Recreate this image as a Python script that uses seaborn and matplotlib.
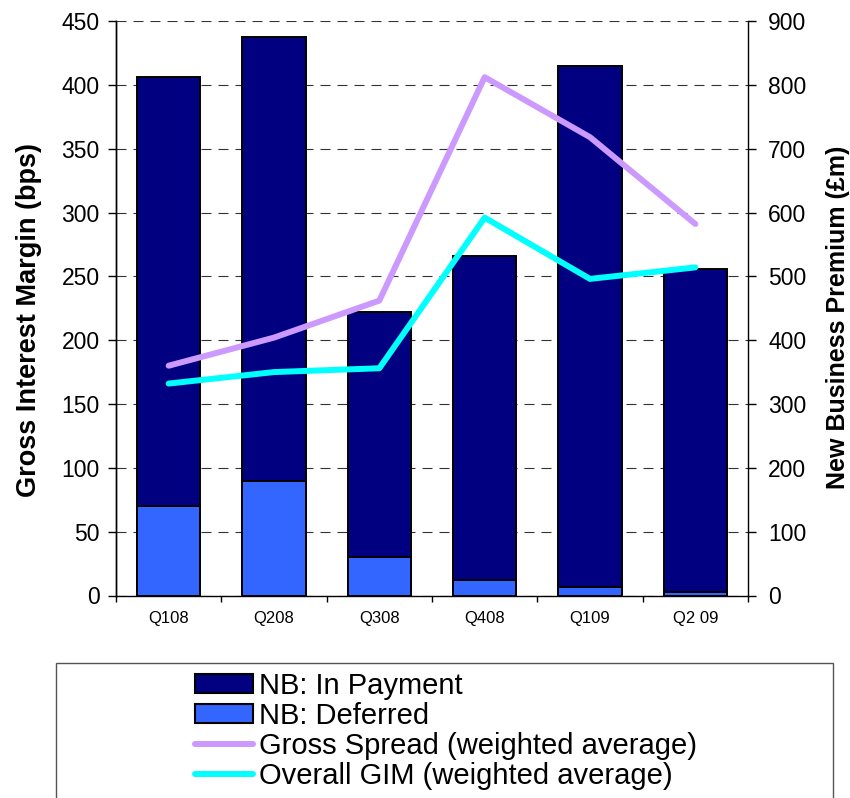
import numpy as np
import pandas as pd
import matplotlib
matplotlib.use("Agg")
import matplotlib.pyplot as plt
import seaborn as sns
from matplotlib.patches import Rectangle, Patch
from matplotlib.lines import Line2D

# Quarterly new business premium (£m) and margins (bps)
quarters = ["Q108", "Q208", "Q308", "Q408", "Q109", "Q2 09"]
nb_in_payment = [673, 695, 383, 508, 816, 506]
nb_deferred = [140, 180, 61, 24, 14, 5]
gross_spread = [180, 202, 231, 406, 359, 291]
overall_gim = [166, 175, 178, 296, 248, 257]

NAVY = "#000080"
BLUE = "#3366FF"
LILAC = "#CC99FF"
CYAN = "#00FFFF"

sns.set_theme(style="white")
plt.rcParams["font.family"] = ["Liberation Sans", "DejaVu Sans"]
plt.rcParams.update({"text.color": "black", "axes.labelcolor": "black",
                     "xtick.color": "black", "ytick.color": "black"})

df = pd.DataFrame({"quarter": quarters,
                   "in_payment": nb_in_payment,
                   "deferred": nb_deferred})
df["total"] = df["in_payment"] + df["deferred"]

W, H = 850, 798
fig = plt.figure(figsize=(W / 100, H / 100), dpi=100)
ax = fig.add_axes([116 / W, 1 - 595.5 / H, (748 - 116) / W, (595.5 - 21) / H])

# Stacked premium bars (right-hand scale): total first, deferred drawn over the base
sns.barplot(data=df, x="quarter", y="total", color=NAVY, saturation=1,
            width=0.6, edgecolor="black", linewidth=1.4, errorbar=None, ax=ax)
sns.barplot(data=df, x="quarter", y="deferred", color=BLUE, saturation=1,
            width=0.6, edgecolor="black", linewidth=1.4, errorbar=None, ax=ax)

# Margin lines (left-hand scale) on a twin axis drawn above the bars
ax2 = ax.twinx()
pos = np.arange(len(quarters))
sns.lineplot(x=pos, y=gross_spread, ax=ax2, color=LILAC, linewidth=4.3,
             solid_capstyle="round")
sns.lineplot(x=pos, y=overall_gim, ax=ax2, color=CYAN, linewidth=4.3,
             solid_capstyle="round")

# Premium axis on the right
ax.set_ylim(0, 900)
ax.set_yticks(range(0, 901, 100))
ax.yaxis.tick_right()
ax.yaxis.set_label_position("right")
ax.set_xlabel("")
ax.set_ylabel("New Business Premium (£m)", fontsize=18, fontweight="bold")
ax.yaxis.set_label_coords(1.124, 0.485)
ax.set_xlim(-0.5, 5.5)
ax.tick_params(axis="y", direction="out", length=6, width=1, color="black",
               labelsize=16.5, pad=8.5, right=True, left=False,
               labelright=True, labelleft=False)

ax.yaxis.grid(True, linestyle=(0, (9, 6.3)), color="#333333", linewidth=0.8)
ax.set_axisbelow(True)

# Category labels centred, ticks on the boundaries
ax.set_xticks(np.arange(-0.5, 6, 1))
ax.set_xticklabels([""] * 7)
ax.set_xticks(pos, minor=True)
ax.set_xticklabels(quarters, minor=True)
ax.tick_params(axis="x", which="major", direction="out", length=4, width=1,
               color="black", bottom=True)
ax.tick_params(axis="x", which="minor", length=0, labelsize=12, pad=11)

for side in ["left", "right", "bottom"]:
    ax.spines[side].set_visible(True)
    ax.spines[side].set_color("black")
    ax.spines[side].set_linewidth(1)
ax.spines["top"].set_visible(False)

# Margin axis on the left
ax2.yaxis.tick_left()
ax2.yaxis.set_label_position("left")
ax2.set_ylim(0, 450)
ax2.set_yticks(range(0, 451, 50))
ax2.set_ylabel("Gross Interest Margin (bps)", fontsize=19.5, fontweight="bold")
ax2.yaxis.set_label_coords(-0.117, 0.48)
ax2.tick_params(axis="y", direction="out", length=6, width=1, color="black",
                labelsize=16.5, pad=5.8, left=True, right=False,
                labelleft=True, labelright=False)
for side in ["top", "right", "bottom"]:
    ax2.spines[side].set_visible(False)
ax2.spines["left"].set_color("black")
ax2.spines["left"].set_linewidth(1)

# Legend block below the plot
handles = [
    Patch(facecolor=NAVY, edgecolor="black", linewidth=1.5),
    Patch(facecolor=BLUE, edgecolor="black", linewidth=1.5),
    Line2D([], [], color=LILAC, linewidth=4.3, solid_capstyle="round"),
    Line2D([], [], color=CYAN, linewidth=4.3, solid_capstyle="round"),
]
labels = ["NB: In Payment", "NB: Deferred",
          "Gross Spread (weighted average)", "Overall GIM (weighted average)"]
fig.legend(handles, labels, loc="upper left",
           bbox_to_anchor=(195 / W, 1 - 672 / H), frameon=False,
           fontsize=21, handlelength=2.0, handletextpad=0.2,
           labelspacing=0.07, borderpad=0, borderaxespad=0, handleheight=0.6)
fig.patches.append(Rectangle((56 / W, -0.1), (833 - 56) / W, 0.1 + (H - 663) / H,
                             transform=fig.transFigure, fill=False,
                             edgecolor="#555555", linewidth=1))

fig.savefig("out.png", dpi=100)
